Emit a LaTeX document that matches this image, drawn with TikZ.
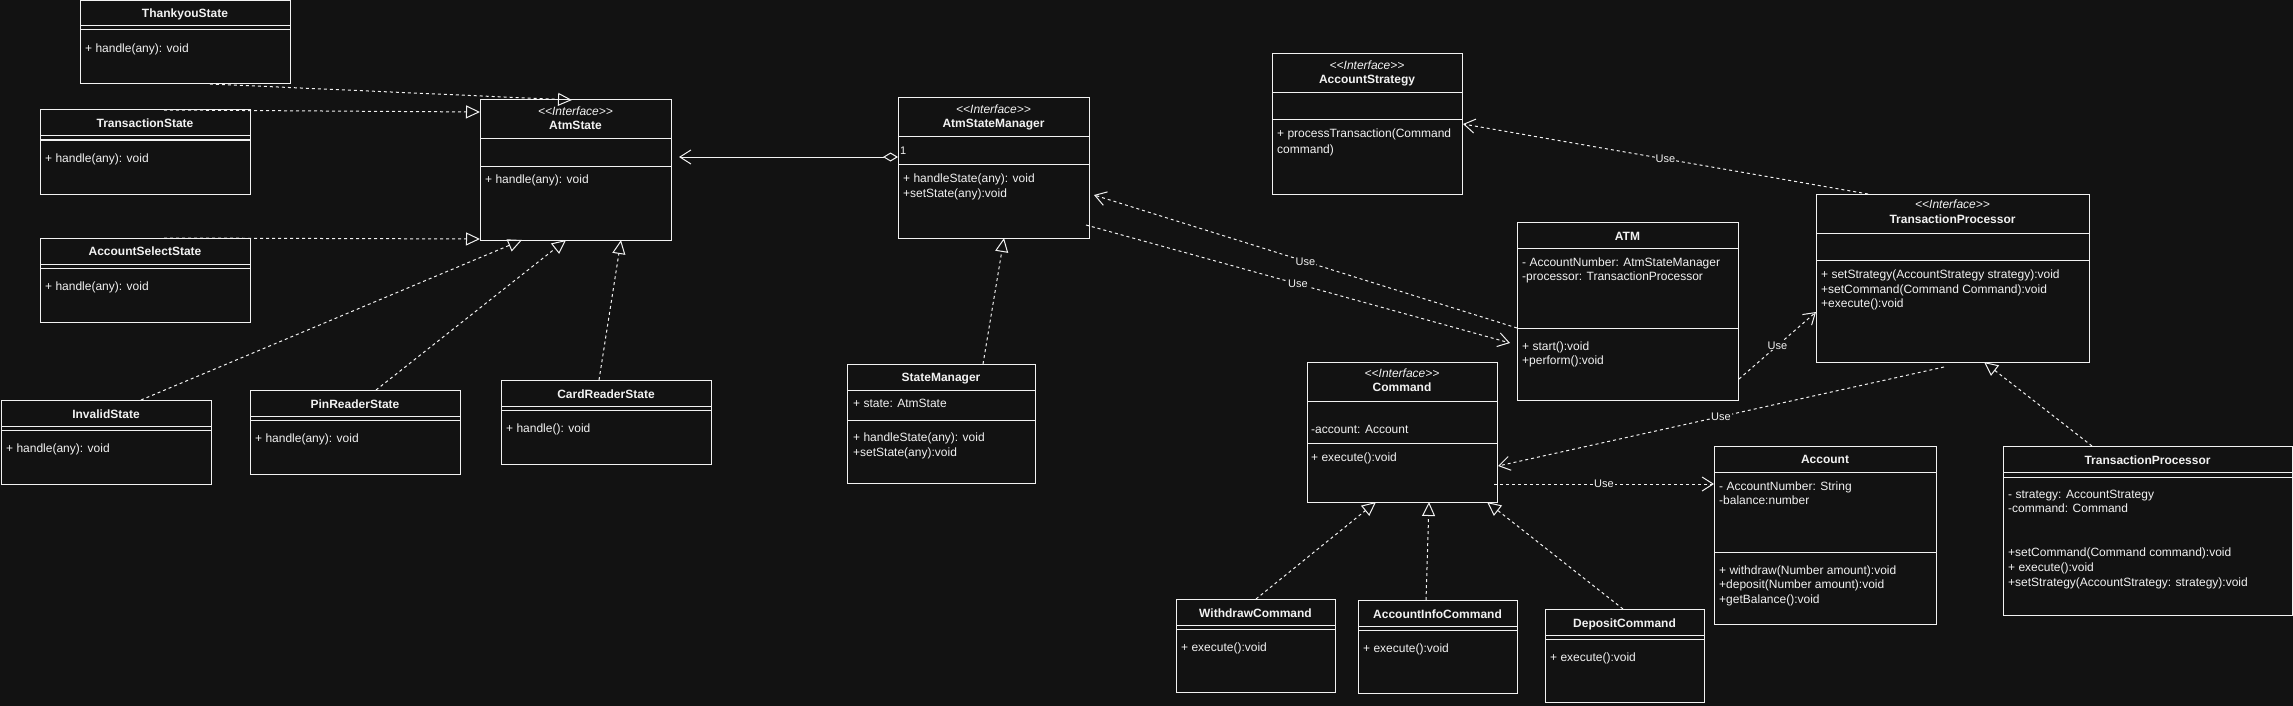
\documentclass[tikz,border=0pt]{standalone}
\usepackage{fontspec}
\setmainfont{Liberation Sans}
\usetikzlibrary{arrows.meta,calc}
\definecolor{bg}{HTML}{121212}
\definecolor{fg}{HTML}{F2F2F2}
\newcounter{lno}
\newcommand\memline[3]{\stepcounter{lno}\node[mem] (m\thelno) at (#1,#2+4.3) {#3};}
\newcommand\ttline[3]{\stepcounter{lno}\node[ttl] (m\thelno) at (#1,#2+4.3) {#3};}
\newcommand\stline[2]{\stepcounter{lno}\node[ster] (m\thelno) at (#1,#2+4.3) {<\kern0pt<Interface>\kern0pt>};}
\newcommand\clsbox[5]{\node[box, minimum width=#4pt, minimum height=#5pt] (#1) at (#2,#3) {};}
\begin{document}
\begin{tikzpicture}[x=1pt,y=-1pt,
  box/.style={draw=fg, fill=bg, line width=1pt, inner sep=0pt, outer sep=0pt, anchor=north west},
  ttl/.style={text=fg, font=\fontsize{12}{14}\selectfont\bfseries, inner sep=0pt, anchor=base},
  ster/.style={text=fg, font=\fontsize{12}{14}\selectfont\itshape, inner sep=0pt, anchor=base},
  mem/.style={text=fg, font=\fontsize{12}{14}\selectfont, inner sep=0pt, anchor=base west},
  sep/.style={draw=fg, line width=1pt},
  realize/.style={draw=fg, line width=1pt, dash pattern=on 3pt off 3pt, -{Triangle[open,length=14pt,width=13pt]}},
  usearr/.style={draw=fg, line width=1pt, dash pattern=on 3pt off 3pt, -{Straight Barb[length=11pt,width=14pt]}},
  aggr/.style={draw=fg, line width=1pt, {Diamond[open,length=15pt,width=9pt]}-{Straight Barb[length=11pt,width=14pt]}},
  lbl/.style={text=fg, fill=bg, font=\fontsize{11}{13}\selectfont, inner sep=1pt},
]
\fill[bg] (0,0) rectangle (2293,706);
\useasboundingbox (0,0) rectangle (2293,706);

% ---------- state classes ----------
\clsbox{thanks}{80}{1}{210}{83}
\draw[sep] (80,26) -- (290,26); \draw[sep] (80,30) -- (290,30);
\ttline{185}{13}{ThankyouState}
\memline{85}{48}{+ handle(any): void}

\clsbox{trans}{40}{110}{210}{84}
\draw[sep] (40,136) -- (250,136); \draw[sep] (40,140) -- (250,140);
\ttline{145}{123}{TransactionState}
\memline{45}{158}{+ handle(any): void}

\clsbox{acsel}{40}{238}{210}{84}
\draw[sep] (40,264) -- (250,264); \draw[sep] (40,268) -- (250,268);
\ttline{145}{251}{AccountSelectState}
\memline{45}{286}{+ handle(any): void}

\clsbox{invalid}{1}{400}{210}{84}
\draw[sep] (1,426) -- (211,426); \draw[sep] (1,430) -- (211,430);
\ttline{106}{414}{InvalidState}
\memline{6}{448}{+ handle(any): void}

\clsbox{pin}{250}{390}{210}{84}
\draw[sep] (250,416) -- (460,416); \draw[sep] (250,420) -- (460,420);
\ttline{355}{404}{PinReaderState}
\memline{255}{438}{+ handle(any): void}

\clsbox{card}{501}{380}{210}{84}
\draw[sep] (501,406) -- (711,406); \draw[sep] (501,410) -- (711,410);
\ttline{606}{394}{CardReaderState}
\memline{506}{428}{+ handle(): void}

% ---------- AtmState ----------
\clsbox{atmstate}{480}{100}{191}{140}
\draw[sep] (480,139) -- (671,139); \draw[sep] (480,166) -- (671,166);
\stline{575.5}{111}
\ttline{575.5}{125}{AtmState}
\memline{485}{179}{+ handle(any): void}

% ---------- AtmStateManager ----------
\clsbox{asm}{898}{98}{191}{140}
\draw[sep] (898,137) -- (1089,137); \draw[sep] (898,164) -- (1089,164);
\stline{993.5}{109}
\ttline{993.5}{123}{AtmStateManager}
\memline{903}{178}{+ handleState(any): void}
\memline{903}{193}{+setState(any):void}

% ---------- StateManager ----------
\clsbox{sm}{847}{364}{188}{119}
\draw[sep] (847,390) -- (1035,390); \draw[sep] (847,420) -- (1035,420);
\ttline{941}{377}{StateManager}
\memline{853}{403}{+ state: AtmState}
\memline{853}{437}{+ handleState(any): void}
\memline{853}{452}{+setState(any):void}

% ---------- AccountStrategy ----------
\clsbox{astrat}{1272}{54}{190}{140}
\draw[sep] (1272,93) -- (1462,93); \draw[sep] (1272,120) -- (1462,120);
\stline{1367}{65}
\ttline{1367}{79}{AccountStrategy}
\memline{1277}{133}{+ processTransaction(Command}
\memline{1277}{149}{command)}

% ---------- ATM ----------
\clsbox{atm}{1517}{222}{221}{178}
\draw[sep] (1517,248) -- (1738,248); \draw[sep] (1517,328) -- (1738,328);
\ttline{1627.5}{236}{ATM}
\memline{1522}{262}{- AccountNumber: AtmStateManager}
\memline{1522}{276}{-processor: TransactionProcessor}
\memline{1522}{346}{+ start():void}
\memline{1522}{360}{+perform():void}

% ---------- TransactionProcessor interface ----------
\clsbox{tpi}{1816}{194}{273}{168}
\draw[sep] (1816,233) -- (2089,233); \draw[sep] (1816,260) -- (2089,260);
\stline{1952.5}{204}
\ttline{1952.5}{219}{TransactionProcessor}
\memline{1821}{274}{+ setStrategy(AccountStrategy strategy):void}
\memline{1821}{289}{+setCommand(Command Command):void}
\memline{1821}{303}{+execute():void}

% ---------- Command ----------
\clsbox{cmd}{1307}{362}{190}{140}
\draw[sep] (1307,401) -- (1497,401); \draw[sep] (1307,443) -- (1497,443);
\stline{1402}{373}
\ttline{1402}{387}{Command}
\memline{1311}{429}{-account: Account}
\memline{1311}{457}{+ execute():void}

% ---------- Account ----------
\clsbox{acct}{1714}{446}{222}{178}
\draw[sep] (1714,472) -- (1936,472); \draw[sep] (1714,552) -- (1936,552);
\ttline{1825}{459}{Account}
\memline{1719}{486}{- AccountNumber: String}
\memline{1719}{500}{-balance:number}
\memline{1719}{570}{+ withdraw(Number amount):void}
\memline{1719}{584}{+deposit(Number amount):void}
\memline{1719}{599}{+getBalance():void}

% ---------- TransactionProcessor class ----------
\clsbox{tpc}{2003}{446}{289}{169}
\draw[sep] (2003,472) -- (2292,472); \draw[sep] (2003,477) -- (2292,477);
\ttline{2147.5}{460}{TransactionProcessor}
\memline{2008}{494}{- strategy: AccountStrategy}
\memline{2008}{508}{-command: Command}
\memline{2008}{552}{+setCommand(Command command):void}
\memline{2008}{567}{+ execute():void}
\memline{2008}{582}{+setStrategy(AccountStrategy: strategy):void}

% ---------- concrete commands ----------
\clsbox{withdraw}{1176}{599}{159}{93}
\draw[sep] (1176,625) -- (1335,625); \draw[sep] (1176,629) -- (1335,629);
\ttline{1255.5}{613}{WithdrawCommand}
\memline{1181}{647}{+ execute():void}

\clsbox{acinfo}{1358}{600}{159}{93}
\draw[sep] (1358,626) -- (1517,626); \draw[sep] (1358,630) -- (1517,630);
\ttline{1437.5}{614}{AccountInfoCommand}
\memline{1363}{648}{+ execute():void}

\clsbox{deposit}{1545}{609}{159}{93}
\draw[sep] (1545,635) -- (1704,635); \draw[sep] (1545,639) -- (1704,639);
\ttline{1624.5}{623}{DepositCommand}
\memline{1550}{657}{+ execute():void}

% ---------- connectors ----------
\draw[realize] ($(thanks.south west)+(130,0)$) -- ($(atmstate.north west)+(92,0)$);
\draw[realize] ($(trans.north west)+(124,0)$) -- ($(atmstate.north west)+(0,12)$);
\draw[realize] ($(acsel.north west)+(124,0)$) -- ($(atmstate.south west)+(0,-1)$);
\draw[realize] ($(invalid.north west)+(140,0)$) -- ($(atmstate.south west)+(42,0)$);
\draw[realize] ($(pin.north west)+(126,0)$) -- ($(atmstate.south west)+(86,0)$);
\draw[realize] ($(card.north west)+(98,0)$) -- ($(atmstate.south west)+(141,0)$);
\draw[aggr] ($(asm.north west)+(0,59)$) -- ($(atmstate.north east)+(8,57)$);
\node[text=fg, font=\fontsize{11}{13}\selectfont, inner sep=0pt, anchor=base west] (one) at (900,154) {1};
\draw[realize] ($(sm.north west)+(136,0)$) -- ($(asm.south west)+(106,0)$);
\draw[usearr] ($(atm.north west)+(0,106)$) -- node[lbl] (u1) {Use} ($(asm.north east)+(5,97)$);
\draw[usearr] ($(asm.north east)+(-3,127)$) -- node[lbl] (u2) {Use} ($(atm.north west)+(-7,121)$);
\draw[usearr] ($(tpi.north west)+(52,0)$) -- node[lbl] (u3) {Use} ($(astrat.north east)+(1,70)$);
\draw[usearr] ($(atm.north east)+(1,157)$) -- node[lbl] (u4) {Use} ($(tpi.north west)+(0,118)$);
\draw[usearr] ($(tpi.south west)+(128,5)$) -- node[lbl] (u5) {Use} ($(cmd.north east)+(1,104)$);
\draw[usearr] ($(cmd.north east)+(-3,122)$) -- node[lbl] (u6) {Use} ($(acct.north west)+(0,38)$);
\draw[realize] ($(tpc.north west)+(89,0)$) -- ($(tpi.south west)+(168,0)$);
\draw[realize] ($(withdraw.north west)+(80,0)$) -- ($(cmd.south west)+(69,0)$);
\draw[realize] ($(acinfo.north west)+(68,0)$) -- ($(cmd.south west)+(122,0)$);
\draw[realize] ($(deposit.north west)+(78,0)$) -- ($(cmd.south west)+(180,0)$);
\end{tikzpicture}
\end{document}
